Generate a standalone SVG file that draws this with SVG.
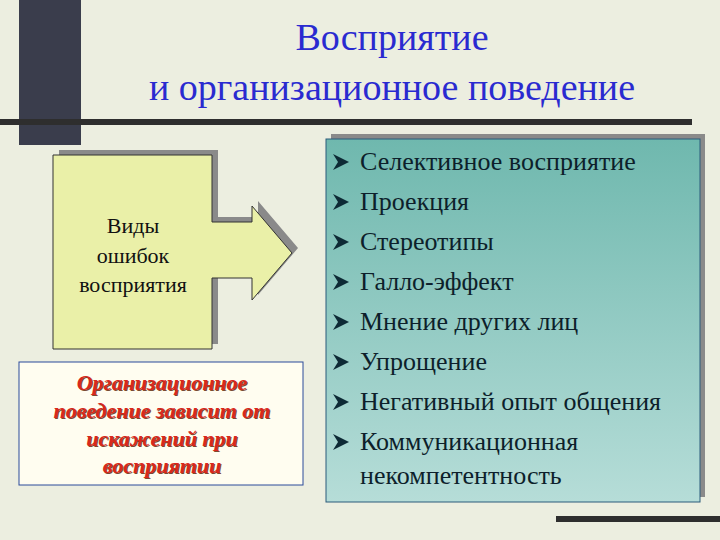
<svg xmlns="http://www.w3.org/2000/svg" width="720" height="540" viewBox="0 0 720 540">
<defs>
<linearGradient id="tg" x1="0" y1="0" x2="0" y2="1"><stop offset="0" stop-color="#6fb8ae"/><stop offset="1" stop-color="#b6ddd8"/></linearGradient>
<style>
text{font-family:"Liberation Serif","Times New Roman","DejaVu Serif",serif}
.title{font-size:38px;fill:#2a2ad0;text-anchor:middle}
.item{font-size:26px;fill:#0d1f2b}
.red{font-size:22px;font-weight:bold;font-style:italic;fill:#d8281c;text-anchor:middle}
.lbl{font-size:22px;fill:#111;text-anchor:middle}
.sh{fill:#8a8a8a}
</style>
</defs>
<rect width="720" height="540" fill="#eceee0"/>
<rect x="19" y="0" width="62" height="145" fill="#3a3d4c"/>
<rect x="0" y="119" width="692" height="6" fill="#2e2e2e"/>
<rect x="556" y="516" width="164" height="6" fill="#2e2e2e"/>
<text class="title" x="392" y="50">Восприятие</text>
<text class="title" x="392" y="100">и организационное поведение</text>
<g id="types">
<path class="sh" d="M59 150H218V217H258V201L298 248L258 295V273H218V344H59Z"/>
<path d="M53 155H212V222H252V206L292 253L252 300V278H212V349H53Z" fill="#eaf0a8" stroke="#333" stroke-width="1"/>
<text class="lbl" x="133" y="233">Виды</text>
<text class="lbl" x="133" y="263">ошибок</text>
<text class="lbl" x="133" y="292">восприятия</text>
</g>
<g id="note">
<rect x="19" y="362" width="284" height="123" fill="#fffdf0" stroke="#2a4a9a" stroke-width="1"/>
<g class="red">
<text x="162" y="390" fill="#7a4a30" dx="1" dy="1">Организационное</text>
<text x="162" y="390">Организационное</text>
<text x="162" y="418" fill="#7a4a30" dx="1" dy="1">поведение зависит от</text>
<text x="162" y="418">поведение зависит от</text>
<text x="162" y="446" fill="#7a4a30" dx="1" dy="1">искажений при</text>
<text x="162" y="446">искажений при</text>
<text x="162" y="473" fill="#7a4a30" dx="1" dy="1">восприятии</text>
<text x="162" y="473">восприятии</text>
</g>
</g>
<g id="list">
<rect class="sh" x="331" y="134" width="374" height="363"/>
<rect x="326" y="139" width="374" height="363" fill="url(#tg)" stroke="#2a5a7a" stroke-width="1"/>
<g class="item">
<text x="360" y="170">Селективное восприятие</text>
<text x="360" y="210">Проекция</text>
<text x="360" y="250">Стереотипы</text>
<text x="360" y="290">Галло-эффект</text>
<text x="360" y="330">Мнение других лиц</text>
<text x="360" y="370">Упрощение</text>
<text x="360" y="410">Негативный опыт общения</text>
<text x="360" y="450">Коммуникационная</text>
<text x="360" y="484">некомпетентность</text>
</g>
<g fill="#0d2a35">
<path d="M333 154L349 162L333 170L338 162Z"/>
<path d="M333 194L349 202L333 210L338 202Z"/>
<path d="M333 234L349 242L333 250L338 242Z"/>
<path d="M333 274L349 282L333 290L338 282Z"/>
<path d="M333 314L349 322L333 330L338 322Z"/>
<path d="M333 354L349 362L333 370L338 362Z"/>
<path d="M333 394L349 402L333 410L338 402Z"/>
<path d="M333 434L349 442L333 450L338 442Z"/>
</g>
</g>
</svg>
